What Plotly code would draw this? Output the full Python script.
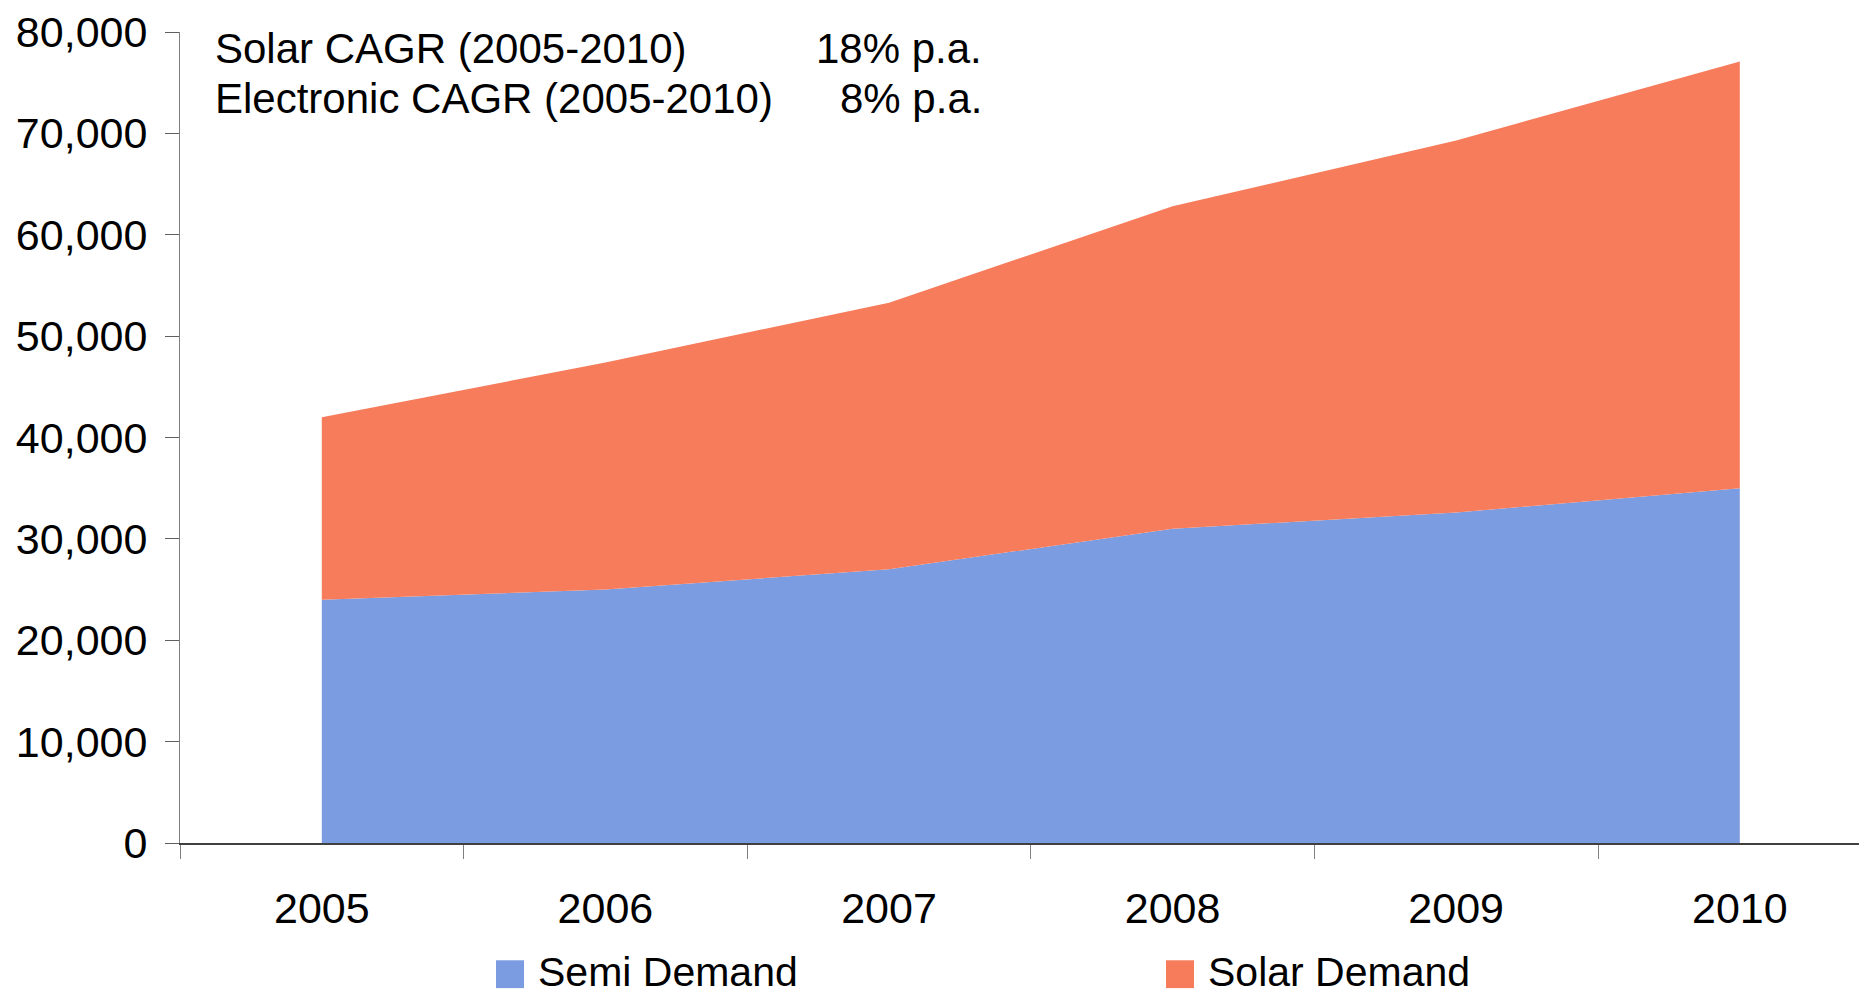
import plotly.graph_objects as go

years = ["2005", "2006", "2007", "2008", "2009", "2010"]
semi_demand = [24000, 25000, 27000, 31000, 32600, 35000]
solar_demand = [18000, 22400, 26300, 31800, 36700, 42100]
series_names = ["Semi Demand", "Solar Demand"]
series_colors = ["#7B9CE1", "#F77C5B"]
cagr_labels = ["Solar CAGR (2005-2010)", "Electronic CAGR (2005-2010)"]
cagr_values = ["18% p.a.", "8% p.a."]

# page offset (browser default body margin)
OFF = 8
W, H = 1867 - OFF, 994 - OFF
L, T = 180 - OFF, 27 - OFF
B = H - (843 - OFF)
PW = W - L
PH = H - T - B
FONT = "Liberation Sans, Arial, sans-serif"
FS = 43
FS_LEG = 41


def px_x(p):
    # p given in page pixels
    return (p - OFF - L) / PW


def px_y(p):
    return (H - B - (p - OFF)) / PH


fig = go.Figure()
for name, vals, col in zip(series_names, [semi_demand, solar_demand], series_colors):
    fig.add_trace(go.Scatter(
        x=years, y=vals, name=name, stackgroup="one", mode="lines",
        line=dict(width=0, color=col), fillcolor=col, showlegend=False,
        hoverinfo="x+y+name",
    ))

annotations = []
for i, (lab, val) in enumerate(zip(cagr_labels, cagr_values)):
    yc = px_y(44 + i * 50)
    annotations.append(dict(xref="paper", yref="paper", x=px_x(213), y=yc,
                            text=lab, showarrow=False, xanchor="left", yanchor="middle",
                            font=dict(family=FONT, size=42, color="#000000")))
    annotations.append(dict(xref="paper", yref="paper", x=px_x(984), y=yc,
                            text=val, showarrow=False, xanchor="right", yanchor="middle",
                            font=dict(family=FONT, size=42, color="#000000")))

# manual legend (large square swatches)
shapes = []
legend_pos = [(496, 536), (1166, 1206)]
for (sx, tx), name, col in zip(legend_pos, series_names, series_colors):
    shapes.append(dict(type="rect", xref="paper", yref="paper",
                       x0=px_x(sx), x1=px_x(sx + 28), y0=px_y(961), y1=px_y(989),
                       fillcolor=col, line=dict(width=0)))
    annotations.append(dict(xref="paper", yref="paper", x=px_x(tx), y=px_y(973),
                            text=name, showarrow=False, xanchor="left", yanchor="middle",
                            font=dict(family=FONT, size=FS_LEG, color="#000000")))

cat_w = (PW + 14.6) / 6
fig.update_layout(
    width=W, height=H,
    margin=dict(l=L, r=0, t=T, b=B, pad=0),
    paper_bgcolor="white", plot_bgcolor="white",
    font=dict(family=FONT, size=FS, color="#000000"),
    showlegend=False,
    annotations=annotations,
    shapes=shapes,
    xaxis=dict(
        type="category", range=[-0.5, PW / cat_w - 0.5],
        tickson="boundaries", ticks="outside", ticklen=14, tickcolor="#808080",
        tickwidth=1, showline=True, linecolor="#404040", linewidth=2,
        showgrid=False, zeroline=False, ticklabelstandoff=26,
        ticklabeloverflow="allow",
        tickfont=dict(family=FONT, size=FS, color="#000000"),
    ),
    yaxis=dict(
        range=[0, 80000], dtick=10000, tickformat=",",
        ticks="outside", ticklen=14, tickcolor="#606060", tickwidth=1,
        showline=True, linecolor="#808080", linewidth=1,
        showgrid=False, zeroline=False, ticklabelstandoff=9,
        ticklabeloverflow="allow",
        tickfont=dict(family=FONT, size=FS, color="#000000"),
    ),
)

fig.write_html("out.html")
